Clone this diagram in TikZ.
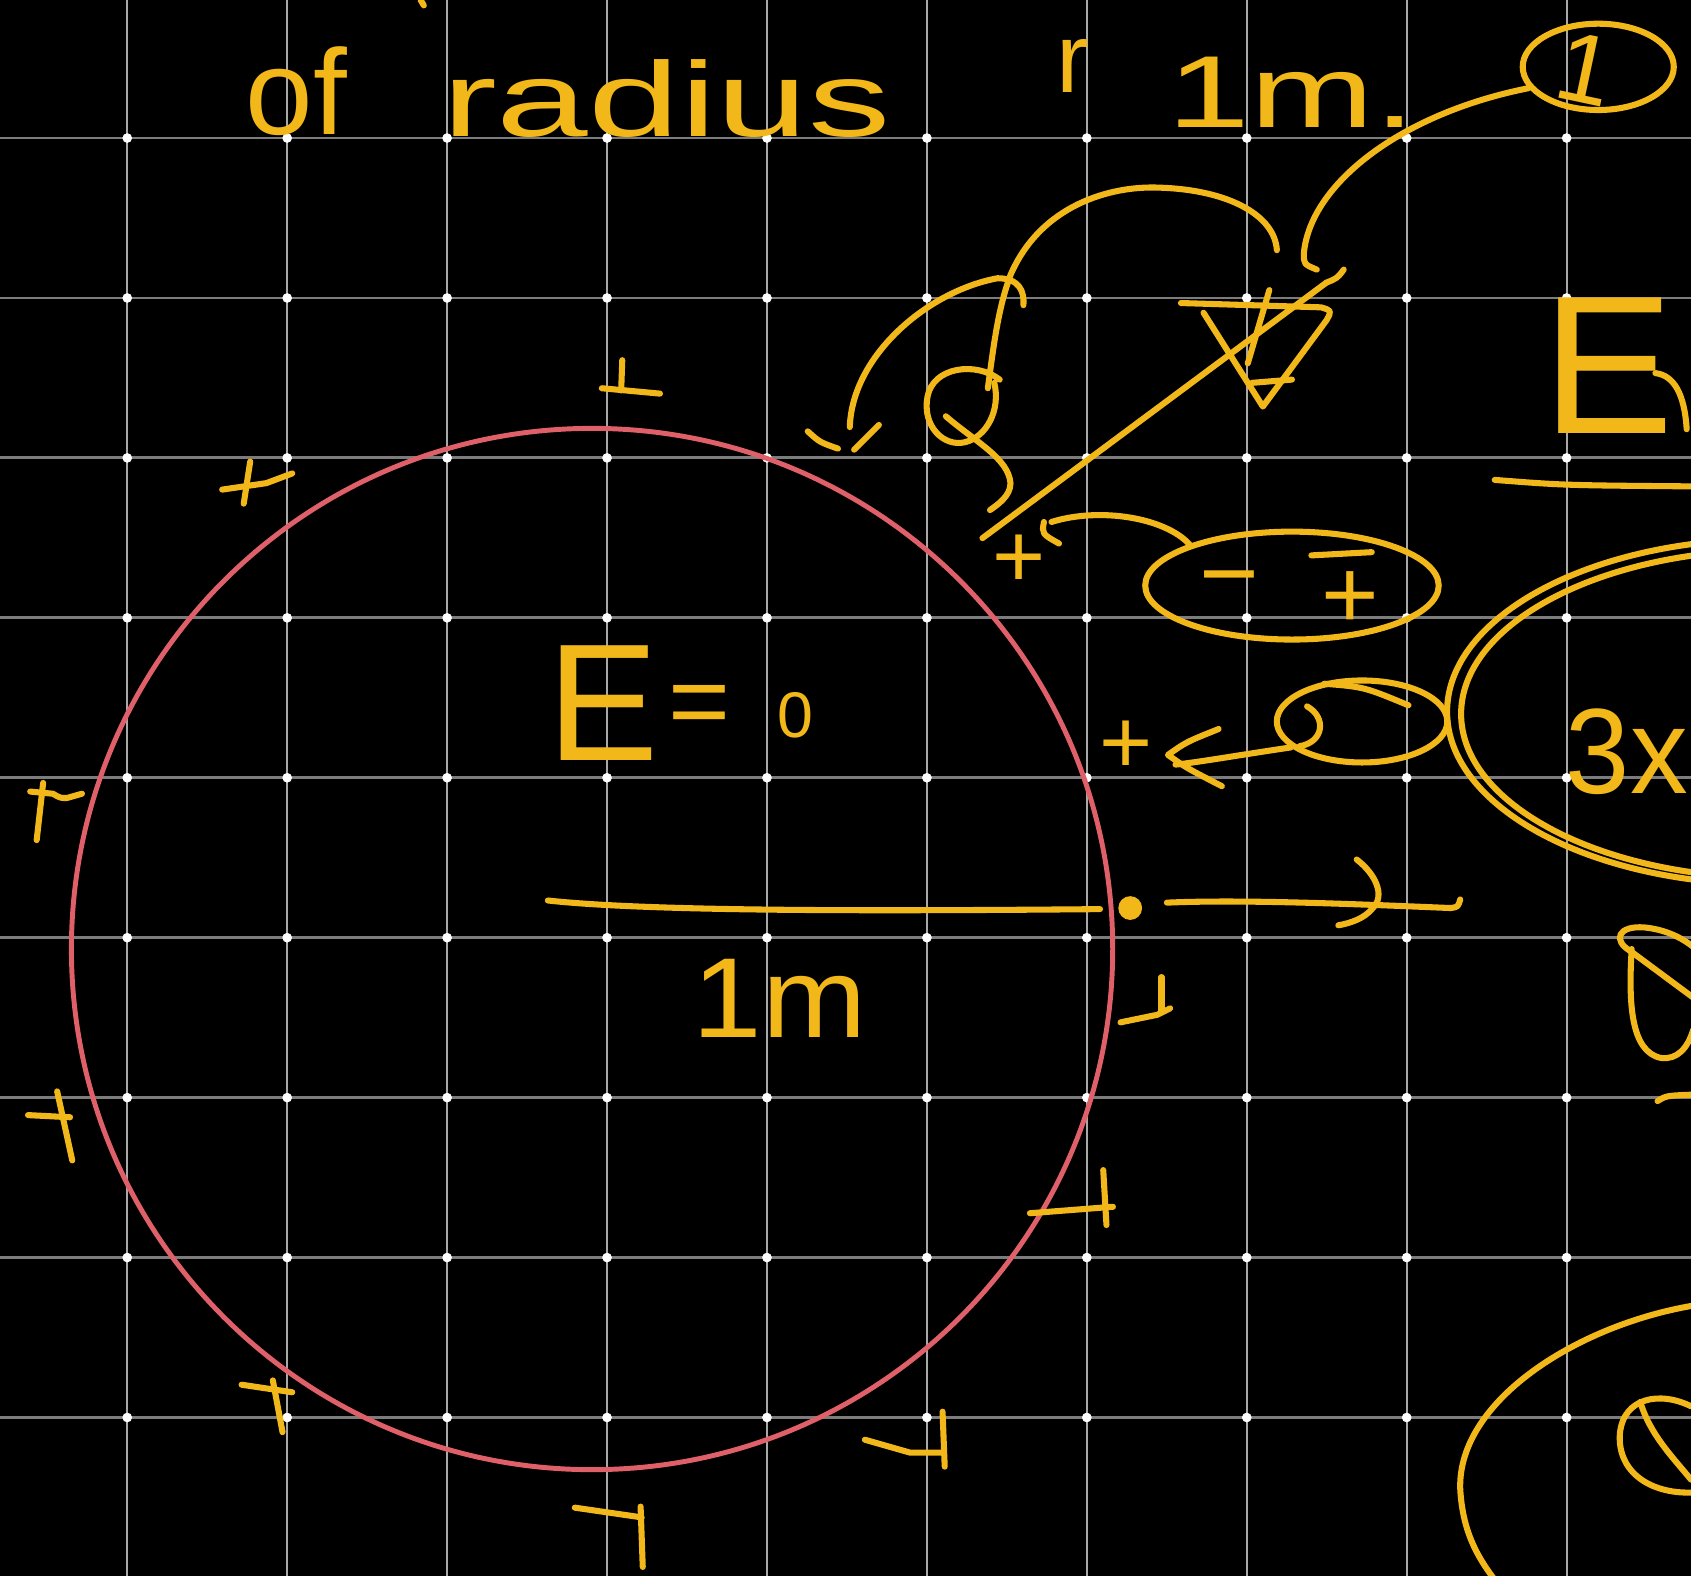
\documentclass[tikz,border=0pt]{standalone}
\usepackage{fontspec}
\setmainfont{Liberation Sans}
\usepackage{graphicx}
\usetikzlibrary{shapes.geometric}
\definecolor{hy}{HTML}{F2B81A}
\definecolor{shellred}{HTML}{E0606A}
\definecolor{gv}{HTML}{A8A8A8}
\definecolor{gh}{HTML}{7C7C7C}
\newcommand{\hwsize}[1]{\fontsize{#1}{#1}\selectfont}
\begin{document}
\begin{tikzpicture}[x=0.01cm,y=-0.01cm,
  ink/.style={draw=hy, line width=1.6pt, line cap=round, line join=round},
  hw/.style={text=hy, inner sep=0pt, outer sep=0pt},
  gridv/.style={draw=gv, line width=0.55pt},
  gridh/.style={draw=gh, line width=0.75pt},
  ring/.style={draw=hy, line width=1.6pt, ellipse, inner sep=0pt},
  dotmark/.style={fill=white}]
% background and frame
\fill[black] (0,0) rectangle (1568,1461);
\useasboundingbox (0,0) rectangle (1568,1461);
\clip (0,0) rectangle (1568,1461);
% grid
\foreach \i in {0,...,9} \draw[gridv] ({118+148.3*\i},0) -- ({118+148.3*\i},1461);
\foreach \j in {0,...,8} \draw[gridh] (0,{128+148.3*\j}) -- (1568,{128+148.3*\j});
\foreach \i in {0,...,9} \foreach \j in {0,...,8}
  \fill[dotmark] ({118+148.3*\i},{128+148.3*\j}) circle[radius=0.045cm];
% shell
\node[draw=shellred, circle, line width=1.3pt, minimum size=9.65cm, inner sep=0pt] (shell) at (549,880) {};
% title
\node[hw, anchor=base west] (tOf) at (228,125) {\hwsize{32}of};
\node[hw, anchor=base west] (tRadius) at (410,127) {\hwsize{28}\scalebox{1.55}[1]{radius}};
\node[hw, anchor=base west] (tR) at (980,86) {\hwsize{26}r};
\node[hw, anchor=base west] (tOneM) at (1083,118) {\hwsize{27}\scalebox{1.45}[1]{1m.}};
\draw[ink] (390,0) -- (393,5);
% circled 1
\node[ring, minimum width=1.4cm, minimum height=0.8cm] (cOne) at (1482,62) {};
\node[hw, rotate=-12] (tOneC) at (1470,64) {\hwsize{26}1};
\draw[ink] (cOne.197) .. controls (1300,105) and (1215,170) .. (1209,235) .. controls (1209,245) .. (1221,250);
% arcs and q shape
\draw[ink] (788,396) .. controls (790,330) and (860,270) .. (925,258) .. controls (945,258) and (950,270) .. (949,283);
\draw[ink] (749,400) .. controls (760,410) .. (777,416);
\draw[ink] (792,417) -- (815,394);
\draw[ink] (916,360) .. controls (922,315) and (926,285) .. (937,255) .. controls (965,190) and (1030,172) .. (1075,174) .. controls (1140,176) and (1182,200) .. (1184,232);
\draw[ink] (927,352) .. controls (905,335) and (865,340) .. (860,368) .. controls (855,395) and (875,415) .. (895,410) .. controls (915,405) and (928,380) .. (922,355);
\draw[ink] (877,386) .. controls (905,410) and (935,425) .. (937,448) .. controls (937,460) and (925,468) .. (918,473);
% nabla
\draw[ink] (1116,290) -- (1171,377) -- (1230,297) .. controls (1235,288) .. (1225,285) -- (1095,281);
\draw[ink] (1161,355) -- (1198,352);
\draw[ink] (1177,269) -- (1157,337);
\coordinate (diagA) at (911,499);
\coordinate (diagB) at (1246,250);
\draw[ink] (diagA) -- (1230,262) .. controls (1240,258) .. (diagB);
% right top E
\node[hw, anchor=base west] (tE2) at (1430,402) {\hwsize{52}E};
\draw[ink] (1535,346) .. controls (1552,348) and (1562,365) .. (1564,398);
\draw[ink] (1386,445) .. controls (1450,450) .. (1568,451);
% ellipse with - +
\node[ring, minimum width=2.72cm, minimum height=1.0cm] (ePM) at (1198,543) {};
\node[hw] (tMinus) at (1140,547) {\hwsize{27}−};
\node[hw] (tPlusIn) at (1252,556) {\hwsize{26}+};
\draw[ink] (1216,515) -- (1272,512);
\node[hw] (pA) at (945,520) {\hwsize{24}+};
\coordinate (pAtip) at (975,484);
\draw[ink] (ePM.158) .. controls (1080,480) and (1020,470) .. (pAtip);
\draw[ink] (968,484) .. controls (966,495) .. (982,504);
% small ellipse
\node[ring, minimum width=1.58cm, minimum height=0.76cm] (eSmall) at (1263,669) {};
\draw[ink] (1212,655) .. controls (1230,665) and (1228,688) .. (1205,692);
\draw[ink] (1228,634) .. controls (1265,637) .. (1306,654);
\node[hw] (pB) at (1044,693) {\hwsize{24}+};
\coordinate (pBtip) at (1090,709);
\draw[ink] (eSmall.200) .. controls (1150,700) and (1110,707) .. (pBtip);
\draw[ink] (1130,676) .. controls (1100,688) .. (1083,700) .. controls (1100,712) .. (1133,729);
% big double ellipse
\node[ring, minimum width=5.96cm, minimum height=3.2cm] (eBigA) at (1640,660) {};
\node[ring, minimum width=5.8cm, minimum height=3.04cm] (eBigB) at (1645,662) {};
\node[hw, anchor=base west] (t3x) at (1452,736) {\hwsize{32}\scalebox{0.95}[1]{3x}};
% D shape
\draw[ink] (1512,882) .. controls (1495,872) and (1500,858) .. (1525,860) .. controls (1545,862) and (1560,870) .. (1570,878);
\draw[ink] (1512,882) -- (1570,925);
\draw[ink] (1513,880) .. controls (1510,930) and (1512,975) .. (1540,981) .. controls (1555,983) and (1565,972) .. (1570,955);
\draw[ink] (1537,1021) .. controls (1545,1016) .. (1570,1015);
% bottom right
\draw[ink] (1568,1211) .. controls (1460,1230) and (1352,1300) .. (1354,1380) .. controls (1356,1420) and (1370,1445) .. (1390,1470);
\draw[ink] (1568,1304) .. controls (1540,1290) and (1505,1295) .. (1502,1330) .. controls (1500,1365) and (1530,1385) .. (1568,1384);
\draw[ink] (1521,1300) .. controls (1530,1330) and (1550,1350) .. (1568,1372);
% E = 0 and radius
\node[hw, anchor=base west] (tE) at (508,705) {\hwsize{44}E};
\node[hw] (tEq) at (649,660) {\hwsize{28}=};
\node[hw, anchor=base] (tZero) at (738,684) {\hwsize{17}0};
\coordinate (rStart) at (508,835);
\coordinate (rEnd) at (1020,843);
\draw[ink] (rStart) .. controls (600,845) and (800,845) .. (rEnd);
\node[fill=hy, circle, inner sep=0pt, minimum size=0.22cm] (dot) at (1048,842) {};
\coordinate (aStart) at (1082,837);
\coordinate (aEnd) at (1354,834);
\draw[ink] (aStart) .. controls (1150,834) and (1250,838) .. (1345,842) .. controls (1352,841) .. (aEnd);
\draw[ink] (1258,797) .. controls (1275,810) and (1285,830) .. (1273,842) .. controls (1265,852) and (1252,856) .. (1241,858);
\node[hw] (tOneM2) at (723,926) {\hwsize{30}\scalebox{1.1}[1]{1m}};
% charges around the shell
\draw[ink] (577,334) -- (576,362); \draw[ink] (558,360) -- (612,365);
\draw[ink] (206,454) -- (247,448) -- (271,439); \draw[ink] (232,428) -- (226,467);
\draw[ink] (40,726) -- (34,779); \draw[ink] (28,734) -- (49,736) .. controls (56,740) .. (62,740) -- (76,736);
\draw[ink] (26,1034) -- (65,1036); \draw[ink] (53,1012) -- (67,1076);
\draw[ink] (224,1284) -- (271,1291); \draw[ink] (253,1280) -- (262,1328);
\draw[ink] (533,1398) -- (595,1407); \draw[ink] (594,1397) -- (596,1453);
\draw[ink] (802,1335) -- (844,1347) -- (874,1347); \draw[ink] (874,1309) -- (876,1360);
\draw[ink] (955,1125) -- (1032,1119); \draw[ink] (1023,1085) -- (1026,1136);
\draw[ink] (1077,906) -- (1077,937); \draw[ink] (1039,948) -- (1073,941) -- (1085,935);
\end{tikzpicture}
\end{document}
